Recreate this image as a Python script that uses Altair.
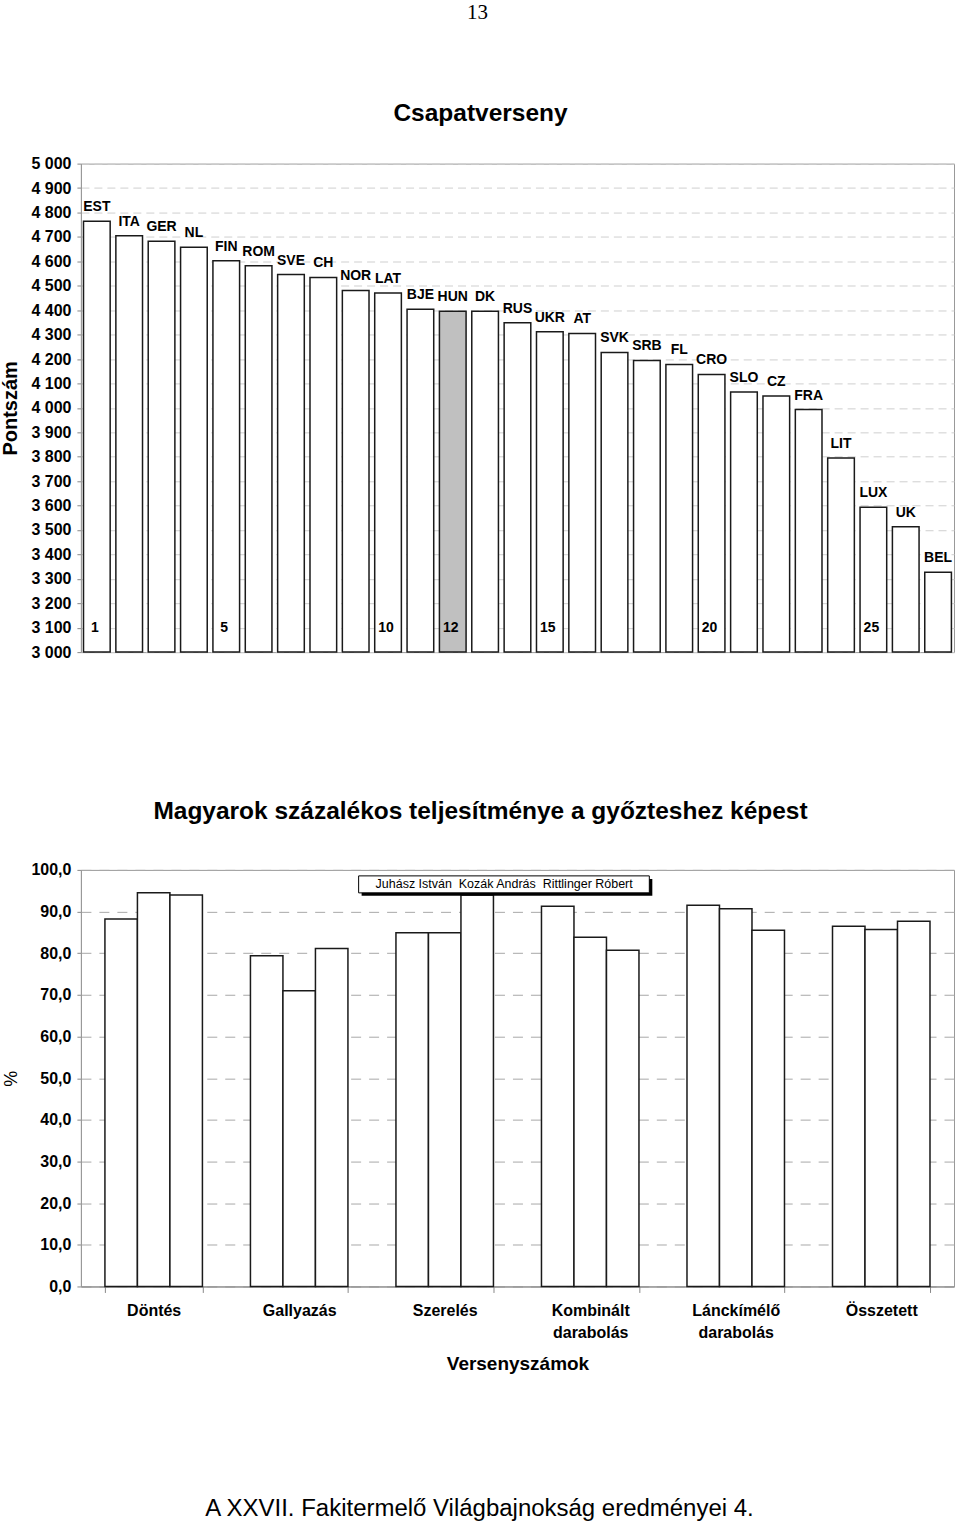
import altair as alt
import pandas as pd

# ---------------- data ----------------
countries = ["EST", "ITA", "GER", "NL", "FIN", "ROM", "SVE", "CH", "NOR", "LAT",
             "BJE", "HUN", "DK", "RUS", "UKR", "AT", "SVK", "SRB", "FL", "CRO",
             "SLO", "CZ", "FRA", "LIT", "LUX", "UK", "BEL"]
points = [4764, 4705, 4682, 4658, 4602, 4582, 4546, 4534, 4481, 4470,
          4404, 4396, 4396, 4348, 4312, 4305, 4227, 4194, 4178, 4137,
          4065, 4049, 3993, 3795, 3593, 3513, 3327]
shown_ranks = [1, 5, 10, 12, 15, 20, 25]
highlight = "HUN"

events = ["Döntés", "Gallyazás", "Szerelés", "Kombinált darabolás",
          "Lánckímélő darabolás", "Összetett"]
competitors = ["Juhász István", "Kozák András", "Rittlinger Róbert"]
juhasz = [88.2, 79.4, 84.9, 91.3, 91.5, 86.5]
kozak = [94.5, 71.0, 84.9, 83.8, 90.7, 85.7]
rittlinger = [94.0, 81.1, 94.0, 80.7, 85.5, 87.7]

page_number = "13"
title_top = "Csapatverseny"
title_bottom = "Magyarok százalékos teljesítménye a győzteshez képest"
footer = "A XXVII. Fakitermelő Világbajnokság eredményei 4."

FONT = "Liberation Sans"

# ---------------- top chart ----------------
df1 = pd.DataFrame({"country": countries, "points": points,
                    "rank": list(range(1, len(countries) + 1))})
df1["hun"] = df1["country"] == highlight
df1["rank_label"] = [str(r) if r in shown_ranks else "" for r in df1["rank"]]

W1, H1 = 874, 489
x1 = alt.X("country:N", sort=countries, axis=None,
           scale=alt.Scale(paddingInner=0.176, paddingOuter=0.08))
scale1 = alt.Scale(domain=[3000, 5000], nice=False, zero=False)
axis1 = alt.Axis(values=list(range(3000, 5001, 100)),
                 labelExpr="replace(format(datum.value, ','), ',', ' ')",
                 labelOverlap=False,
                 title="Pontszám", titleFontSize=20, titleFont=FONT,
                 titleFontWeight="bold", titleColor="black",
                 titlePadding=10,
                 labelFont=FONT, labelFontSize=16, labelFontWeight="bold",
                 labelColor="black", labelPadding=6,
                 tickSize=4, tickColor="#888", domainColor="#999",
                 grid=True, gridColor="#cfcfcf", gridDash=[8, 5],
                 gridWidth=1)
y1 = alt.Y("points:Q", scale=scale1, axis=axis1)

base1 = alt.Chart(df1)
bars1 = base1.mark_bar(stroke="#1a1a1a", strokeWidth=1.5).encode(
    x=x1, y=y1, y2=alt.datum(3000),
    fill=alt.condition(alt.datum.hun, alt.value("#c0c0c0"), alt.value("white")),
)
names1 = base1.mark_text(font=FONT, fontSize=14, fontWeight="bold",
                         baseline="alphabetic", dy=-10, color="black").encode(
    x=x1, y=y1, text="country:N")
ranks1 = base1.mark_text(font=FONT, fontSize=14, fontWeight="bold",
                         baseline="middle", dx=-2, color="black").encode(
    x=x1, y=alt.YDatum(3100, scale=scale1, axis=axis1), text="rank_label:N")

top = alt.layer(bars1, names1, ranks1).properties(
    width=W1, height=H1,
    title=alt.TitleParams(title_top, font=FONT, fontSize=24.5, fontWeight="bold",
                          color="black", anchor="middle", offset=29, dx=-37),
)

# ---------------- bottom chart ----------------
rows = []
for i, ev in enumerate(events):
    for name, vals in zip(competitors, [juhasz, kozak, rittlinger]):
        rows.append({"event": ev, "competitor": name, "value": vals[i]})
df2 = pd.DataFrame(rows)

W2, H2 = 874, 417
x2 = alt.X("event:N", sort=events,
           scale=alt.Scale(paddingInner=0.33, paddingOuter=0.165),
           axis=alt.Axis(title="Versenyszámok", labelAngle=0,
                         labelExpr="split(datum.label, ' ')",
                         labelFont=FONT, labelFontSize=16, labelFontWeight="bold",
                         labelColor="black", labelLineHeight=22, labelPadding=10,
                         titleFont=FONT, titleFontSize=19, titleFontWeight="bold",
                         titleColor="black", titlePadding=14,
                         tickBand="extent", tickSize=6, tickColor="#888",
                         domainColor="#888", grid=False))
y2 = alt.Y("value:Q", scale=alt.Scale(domain=[0, 100], nice=False),
           axis=alt.Axis(values=list(range(0, 101, 10)),
                         labelExpr="replace(format(datum.value, '.1f'), '.', ',')",
                         labelOverlap=False,
                         title="%", titleFont=FONT, titleFontSize=18,
                         titleFontWeight="normal", titleColor="black",
                         titlePadding=10,
                         labelFont=FONT, labelFontSize=16, labelFontWeight="bold",
                         labelColor="black", labelPadding=6,
                         tickSize=4, tickColor="#888", domainColor="#999",
                         grid=True, gridColor="#a8a8a8", gridDash=[10, 8],
                         gridWidth=1))
bars2 = alt.Chart(df2).mark_bar(fill="white", stroke="#1a1a1a", strokeWidth=1.5).encode(
    x=x2, y=y2,
    xOffset=alt.XOffset("competitor:N", sort=competitors,
                        scale=alt.Scale(paddingInner=0, paddingOuter=0)),
)

NB = "\u00a0\u00a0"
legend_df = pd.DataFrame({"label": [NB.join(competitors)]})
lg = alt.Chart(legend_df)
shadow = lg.mark_rect(fill="black").encode(
    x=alt.value(281), x2=alt.value(572), y=alt.value(9), y2=alt.value(26))
box = lg.mark_rect(fill="white", stroke="black", strokeWidth=1).encode(
    x=alt.value(278), x2=alt.value(569), y=alt.value(6), y2=alt.value(23))
ltext = lg.mark_text(font=FONT, fontSize=12.5, align="left", baseline="middle",
                     color="black").encode(
    x=alt.value(295), y=alt.value(14.5), text="label:N")

foot_df = pd.DataFrame({"label": [footer]})
foot = alt.Chart(foot_df).mark_text(font=FONT, fontSize=24, align="center",
                                    baseline="middle", color="black").encode(
    x=alt.value(399), y=alt.value(640), text="label:N")

bottom = alt.layer(bars2, shadow, box, ltext, foot).properties(
    width=W2, height=H2,
    title=alt.TitleParams(title_bottom, font=FONT, fontSize=24.5, fontWeight="bold",
                          color="black", anchor="middle", offset=37, dx=-37),
)

chart = alt.vconcat(top, bottom, spacing=138).properties(
    title=alt.TitleParams(page_number, font="Liberation Serif", fontSize=21,
                          fontWeight="normal", color="black", anchor="middle",
                          offset=78),
    padding={"left": 0, "top": 1, "right": 5, "bottom": 5},
).configure_view(stroke="#999", strokeWidth=1)

chart.save("out.html", embed_options={"renderer": "svg", "actions": False})
